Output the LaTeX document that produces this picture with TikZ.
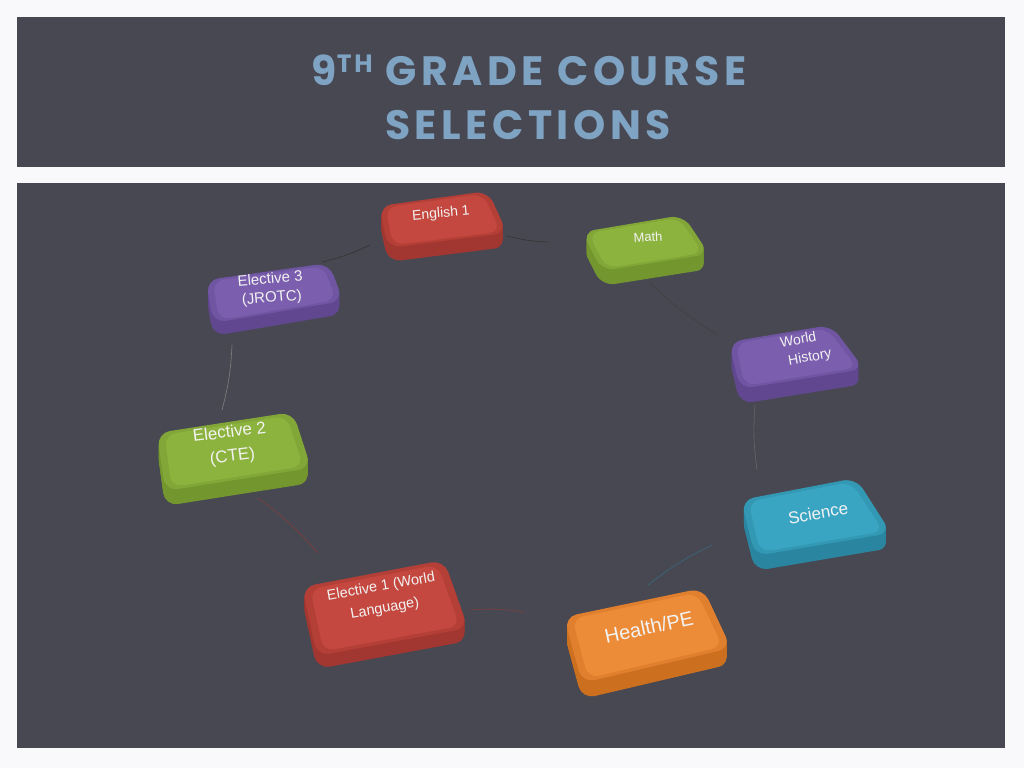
\documentclass[tikz,border=0pt]{standalone}
\usepackage{fontspec}
\setmainfont{Liberation Sans}
\newfontfamily\titlefont[LetterSpace=11]{Poppins}
\usetikzlibrary{calc}
\definecolor{bg}{HTML}{F9F9FB}
\definecolor{panel}{HTML}{484853}
\definecolor{ttl}{HTML}{7FA3C3}
\definecolor{keyfg}{HTML}{F2F2F2}
\definecolor{redtop}{HTML}{C4483F}
\definecolor{rededge}{HTML}{B43F37}
\definecolor{redside}{HTML}{A23630}
\definecolor{greentop}{HTML}{8DB33F}
\definecolor{greenedge}{HTML}{82A637}
\definecolor{greenside}{HTML}{73962E}
\definecolor{purpletop}{HTML}{7B5FAE}
\definecolor{purpleedge}{HTML}{7056A2}
\definecolor{purpleside}{HTML}{614790}
\definecolor{cyantop}{HTML}{3AA5C3}
\definecolor{cyanedge}{HTML}{3398B4}
\definecolor{cyanside}{HTML}{2A86A0}
\definecolor{orangetop}{HTML}{EC8C38}
\definecolor{orangeedge}{HTML}{E0802E}
\definecolor{orangeside}{HTML}{CC701F}
\newcommand\kbox[6]{%
  \foreach \k in {1,...,#6}{\fill[#1side, rounded corners=13pt, shift={(0,\k)}] #2--#3--#4--#5--cycle;}
  \fill[#1edge, rounded corners=13pt] #2--#3--#4--#5--cycle;
  \fill[#1top, rounded corners=11pt] ($#2!0.05!#4$)--($#3!0.05!#5$)--($#4!0.05!#2$)--($#5!0.05!#3$)--cycle;
}
\tikzset{
  keytext/.style={text=keyfg, align=center, inner sep=0pt},
  conn/.style={line width=0.6pt},
}
\begin{document}
\begin{tikzpicture}[x=1pt,y=-1pt]
\useasboundingbox (0,0) rectangle (1024,768);
\fill[bg] (0,0) rectangle (1024,768);
\fill[panel] (17,17) rectangle (1005,167);
\fill[panel] (17,183) rectangle (1005,748);
% title
\node[text=ttl, font=\titlefont\bfseries\fontsize{41}{48}\selectfont, inner sep=0pt] (t1) at (529,70)
  {9\raisebox{0.3em}{\fontsize{25}{26}\selectfont TH} GRADE COURSE};
\node[text=ttl, font=\titlefont\bfseries\fontsize{41}{48}\selectfont, inner sep=0pt] (t2) at (528,125) {SELECTIONS};
% connector end points
\coordinate (a1) at (507,236); \coordinate (b1) at (548,242);
\coordinate (a2) at (650,283); \coordinate (b2) at (718,335);
\coordinate (a3) at (755,405); \coordinate (b3) at (757,470);
\coordinate (a4) at (712,545); \coordinate (b4) at (648,585);
\coordinate (a5) at (525,612); \coordinate (b5) at (470,610);
\coordinate (a6) at (318,553); \coordinate (b6) at (258,498);
\coordinate (a7) at (222,410); \coordinate (b7) at (232,345);
\coordinate (a8) at (322,262); \coordinate (b8) at (370,245);
\draw[conn, color=black!80] (a1) to[bend right=6] (b1);
\draw[conn, color=black!75] (a2) to[bend right=6] (b2);
\draw[conn, color=black!60] (a3) to[bend right=6] (b3);
\draw[conn, color=cyanside!55!panel] (a4) to[bend right=6] (b4);
\draw[conn, color=redside!55!panel] (a5) to[bend right=6] (b5);
\draw[conn, color=redside!60!panel] (a6) to[bend right=6] (b6);
\draw[conn, color=black!50] (a7) to[bend right=6] (b7);
\draw[conn, color=black!80] (a8) to[bend right=6] (b8);
% boxes
\kbox{red}{(379,206)}{(488,191)}{(507,233)}{(388,248)}{14}
\node[keytext, font=\fontsize{14}{16}\selectfont, rotate=5] (eng) at (441,214) {English 1};
\kbox{green}{(582,232)}{(683,215)}{(709,254)}{(602,271)}{15}
\node[keytext, font=\fontsize{13}{15}\selectfont, rotate=3] (math) at (648,237) {Math};
\kbox{purple}{(206,280)}{(329,263)}{(343,301)}{(213,323)}{13}
\node[keytext, font=\fontsize{15}{19}\selectfont, rotate=5] (el3) at (271,289) {Elective 3\\(JROTC)};
\kbox{purple}{(729,342)}{(831,325)}{(864,369)}{(740,389)}{15}
\node[keytext, font=\fontsize{14}{19}\selectfont, rotate=10] (wh) at (800,350) {World\\\hspace*{1.2em}History};
\kbox{green}{(157,433)}{(293,412)}{(311,468)}{(165,491)}{15}
\node[keytext, font=\fontsize{17}{24}\selectfont, rotate=7] (el2) at (231,445) {Elective 2\\(CTE)};
\kbox{cyan}{(741,500)}{(856,478)}{(891,533)}{(755,556)}{15}
\node[keytext, font=\fontsize{17}{19}\selectfont, rotate=10] (sci) at (818,513) {Science};
\kbox{red}{(302,587)}{(444,560)}{(468,628)}{(317,656)}{13}
\node[keytext, font=\fontsize{14.5}{22}\selectfont, rotate=10] (el1) at (383,598) {Elective 1 (World\\Language)};
\kbox{orange}{(564,617)}{(703,588)}{(731,648)}{(582,683)}{16}
\node[keytext, font=\fontsize{20}{22}\selectfont, rotate=12] (hpe) at (649,627) {Health/PE};
\end{tikzpicture}
\end{document}
